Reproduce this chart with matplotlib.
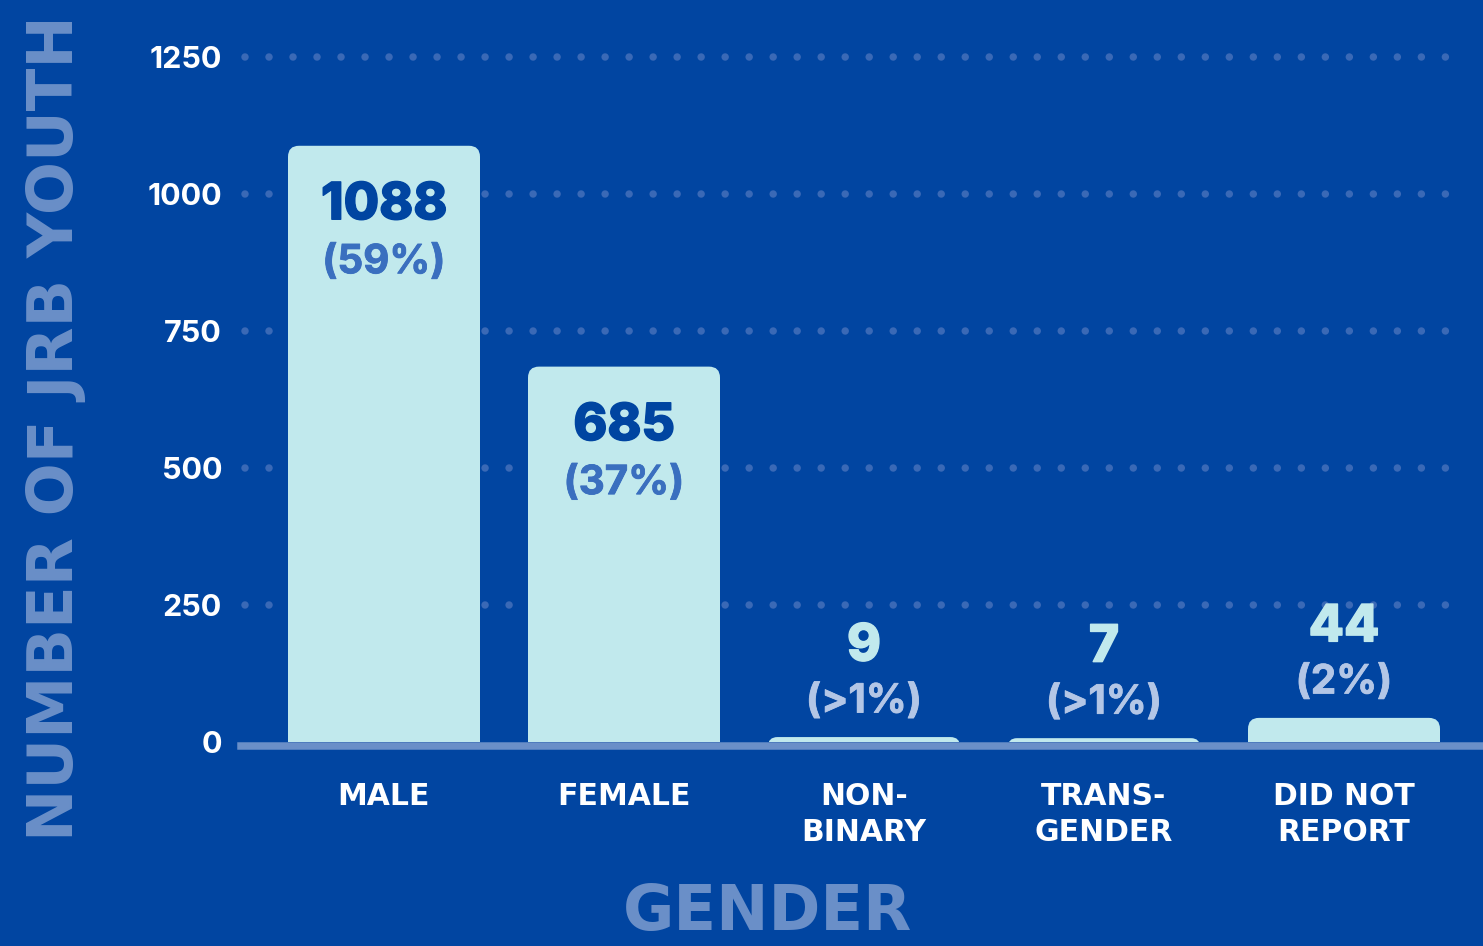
import matplotlib
matplotlib.use("Agg")
import matplotlib.pyplot as plt
from matplotlib.patches import FancyBboxPatch
import matplotlib.patheffects as pe

categories = ["MALE", "FEMALE", "NON-\nBINARY", "TRANS-\nGENDER", "DID NOT\nREPORT"]
counts = [1088, 685, 9, 7, 44]
pct_labels = ["(59%)", "(37%)", "(>1%)", "(>1%)", "(2%)"]
yticks = [0, 250, 500, 750, 1000, 1250]

BG = "#0145a1"
BAR = "#c1e9ed"
AXISC = "#6a8fc8"
DOT = "#3a69b6"

plt.rcParams['font.family'] = ['Inter', 'DejaVu Sans']
WIDE = ['DejaVu Sans']

W, H = 1483, 946
fig = plt.figure(figsize=(W / 100, H / 100), dpi=100, facecolor=BG)

# pixel geometry
x0_px, x_step = 384, 240
y0_px = 742
px_per_unit = (742 - 57) / 1250
ax_left_px, ax_right_px = 241, 1483
ax_top_px = 10
xmin = (ax_left_px - x0_px) / x_step
xmax = (ax_right_px - x0_px) / x_step
ymax = (y0_px - ax_top_px) / px_per_unit
ax = fig.add_axes([ax_left_px / W, (H - y0_px) / H,
                   (ax_right_px - ax_left_px) / W, (y0_px - ax_top_px) / H])
ax.set_facecolor(BG)
ax.set_xlim(xmin, xmax)
ax.set_ylim(0, ymax)
for s in ax.spines.values():
    s.set_visible(False)

# dotted gridlines
gx0 = (245 - x0_px) / x_step
gx1 = (1452 - x0_px) / x_step
lw_pt = 7.5 * 0.72
gap = (24 * 0.72) / lw_pt
for yv in yticks[1:]:
    ax.plot([gx0, gx1], [yv, yv], color=DOT, lw=lw_pt,
            linestyle=(0, (0.001, gap)), dash_capstyle='round',
            zorder=1, clip_on=False)

# bars
xs = list(range(len(categories)))
bars = ax.bar(xs, counts, width=0.8, color=BAR, zorder=2)
units_per_px_x = 1 / x_step
units_per_px_y = 1 / px_per_unit
aspect = units_per_px_y / units_per_px_x
ext_px = 14
for b in bars:
    b.set_visible(False)
    x, w, h = b.get_x(), b.get_width(), b.get_height()
    ext = ext_px * units_per_px_y
    tot_px = (h + ext) / units_per_px_y
    r_px = min(11, tot_px / 2)
    p = FancyBboxPatch((x, -ext), w, h + ext,
                       boxstyle=f"round,pad=0,rounding_size={r_px * units_per_px_x}",
                       mutation_aspect=aspect, facecolor=BAR, edgecolor='none',
                       zorder=2, clip_on=True)
    ax.add_patch(p)

# baseline (sits just below zero)
ax.axhline(-3.6 * units_per_px_y, color=AXISC, lw=7.5 * 0.72, zorder=3, clip_on=False)

# value labels
def thick(col, w=1.0):
    return [pe.withStroke(linewidth=w, foreground=col)]

for x, c, pl in zip(xs, counts, pct_labels):
    top_px = c * px_per_unit
    if top_px > 150:
        ncol, pcol = "#0045a1", "#3a6fbf"
        dy_n, dy_p = -60, -117
    else:
        ncol, pcol = BAR, "#b3c6e6"
        dy_n, dy_p = 90, 35
    ax.annotate(str(c), (x, c), xytext=(0, dy_n * 0.72), textcoords='offset points',
                ha='center', va='center', fontsize=37, fontweight='heavy',
                color=ncol, zorder=4, path_effects=thick(ncol, 1.0))
    ax.annotate(pl, (x, c), xytext=(0, dy_p * 0.72), textcoords='offset points',
                ha='center', va='center', fontsize=29, fontweight='bold',
                color=pcol, zorder=4, path_effects=thick(pcol, 0.6))

# ticks
ax.set_yticks(yticks)
ax.set_yticklabels([str(v) for v in yticks], fontsize=22, fontweight='bold', color='white')
ax.tick_params(axis='y', length=0, pad=19 * 0.72)
ax.set_xticks(xs)
ax.set_xticklabels(categories, fontsize=21.5, fontweight='bold', color='white',
                   linespacing=1.3, va='top', family=WIDE)
ax.tick_params(axis='x', length=0, pad=40 * 0.72)

# axis titles
fig.text(56 / W, 1 - 428 / H, "NUMBER OF JRB YOUTH", rotation=90, ha='center', va='center',
         fontsize=45, fontweight='bold', color=AXISC, family=WIDE)
fig.text(768 / W, 1 - 913 / H, "GENDER", ha='center', va='center',
         fontsize=45, fontweight='bold', color=AXISC, family=WIDE)

fig.savefig("out.png", dpi=100, facecolor=BG)
